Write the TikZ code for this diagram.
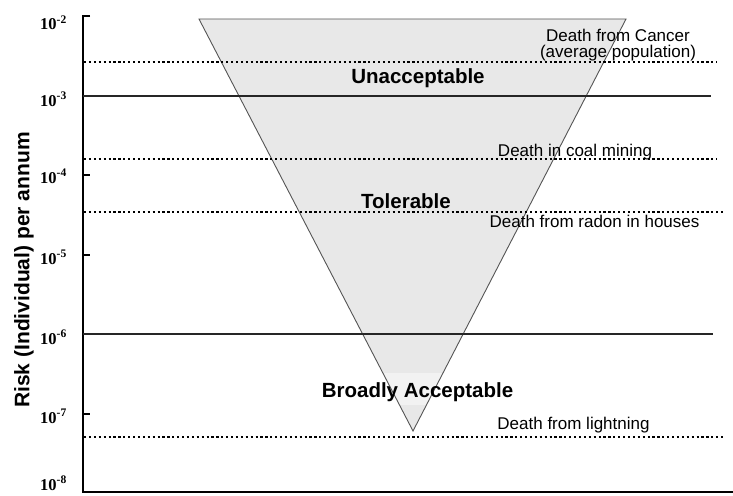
\documentclass[tikz,border=0pt]{standalone}
\usepackage{fontspec}
\setmainfont{Liberation Sans}
\newfontfamily\tickfont{Liberation Serif}
\definecolor{trifill}{HTML}{E8E8E8}
\definecolor{triband}{HTML}{F2F2F2}
\definecolor{triedge}{HTML}{555555}
\begin{document}
\begin{tikzpicture}[x=1pt,y=-1pt,
  solidline/.style={line width=1.5pt, black!85},
  dotline/.style={line width=2.2pt, dash pattern=on 2.2pt off 2.7pt, black},
  axisline/.style={line width=1.4pt, black},
  biglabel/.style={font=\fontsize{20.5}{24}\selectfont\bfseries, inner sep=0pt, anchor=base},
  smalllabel/.style={font=\fontsize{17}{17}\selectfont, inner sep=0pt, anchor=base, align=center},
  ticklabel/.style={font=\tickfont\bfseries\fontsize{16.5}{16.5}\selectfont, inner sep=0pt, anchor=base east}]
\useasboundingbox (0,0) rectangle (733,495);

% triangle
\coordinate (tl) at (199,19);
\coordinate (tr) at (626,19);
\coordinate (ap) at (413,431);
\fill[trifill] (tl) -- (tr) -- (ap) -- cycle;
\begin{scope}
  \clip (tl) -- (tr) -- (ap) -- cycle;
  \fill[triband] (300,373) rectangle (530,405);
\end{scope}
\draw[triedge, line width=0.9pt, line join=miter] (tl) -- (tr) -- (ap) -- cycle;

% axis
\coordinate (atop) at (83,16);
\coordinate (abot) at (83,492);
\coordinate (aend) at (733,492);
\draw[axisline] (90,16) -- (atop) -- (abot) -- (aend);
\foreach \yy in {96,175,255,334,414} \draw[axisline] (83,\yy) -- (90,\yy);

% solid lines
\coordinate (s1a) at (83,96);  \coordinate (s1b) at (711,96);
\coordinate (s2a) at (83,334); \coordinate (s2b) at (713,334);
\draw[solidline] (s1a) -- (s1b);
\draw[solidline] (s2a) -- (s2b);

% dotted lines
\coordinate (d1a) at (84,62);  \coordinate (d1b) at (717,62);
\coordinate (d2a) at (84,159); \coordinate (d2b) at (717,159);
\coordinate (d3a) at (84,212); \coordinate (d3b) at (723,212);
\coordinate (d4a) at (84,437); \coordinate (d4b) at (723,437);
\draw[dotline] (d1a) -- (d1b);
\draw[dotline] (d2a) -- (d2b);
\draw[dotline] (d3a) -- (d3b);
\draw[dotline] (d4a) -- (d4b);

% tick labels
\node[ticklabel] (t2) at (67,30)  {10\textsuperscript{-2}};
\node[ticklabel] (t3) at (67,106) {10\textsuperscript{-3}};
\node[ticklabel] (t4) at (67,183) {10\textsuperscript{-4}};
\node[ticklabel] (t5) at (67,264) {10\textsuperscript{-5}};
\node[ticklabel] (t6) at (67,344) {10\textsuperscript{-6}};
\node[ticklabel] (t7) at (67,423) {10\textsuperscript{-7}};
\node[ticklabel] (t8) at (67,490) {10\textsuperscript{-8}};

% axis title
\node[rotate=90, font=\fontsize{21}{24}\selectfont\bfseries, inner sep=0pt] (ytitle) at (24,270) {Risk (Individual) per annum};

% region labels
\node[biglabel] (unacc) at (418,83) {Unacceptable};
\node[biglabel] (toler) at (406,208) {Tolerable};
\node[biglabel] (broad) at (417.5,397) {Broadly Acceptable};

% event labels
\node[smalllabel] (cancer) at (618,58) {Death from Cancer\\(average population)};
\node[smalllabel] (coal) at (575,156) {Death in coal mining};
\node[smalllabel] (radon) at (594.5,227) {Death from radon in houses};
\node[smalllabel] (light) at (573.5,429) {Death from lightning};
\end{tikzpicture}
\end{document}
